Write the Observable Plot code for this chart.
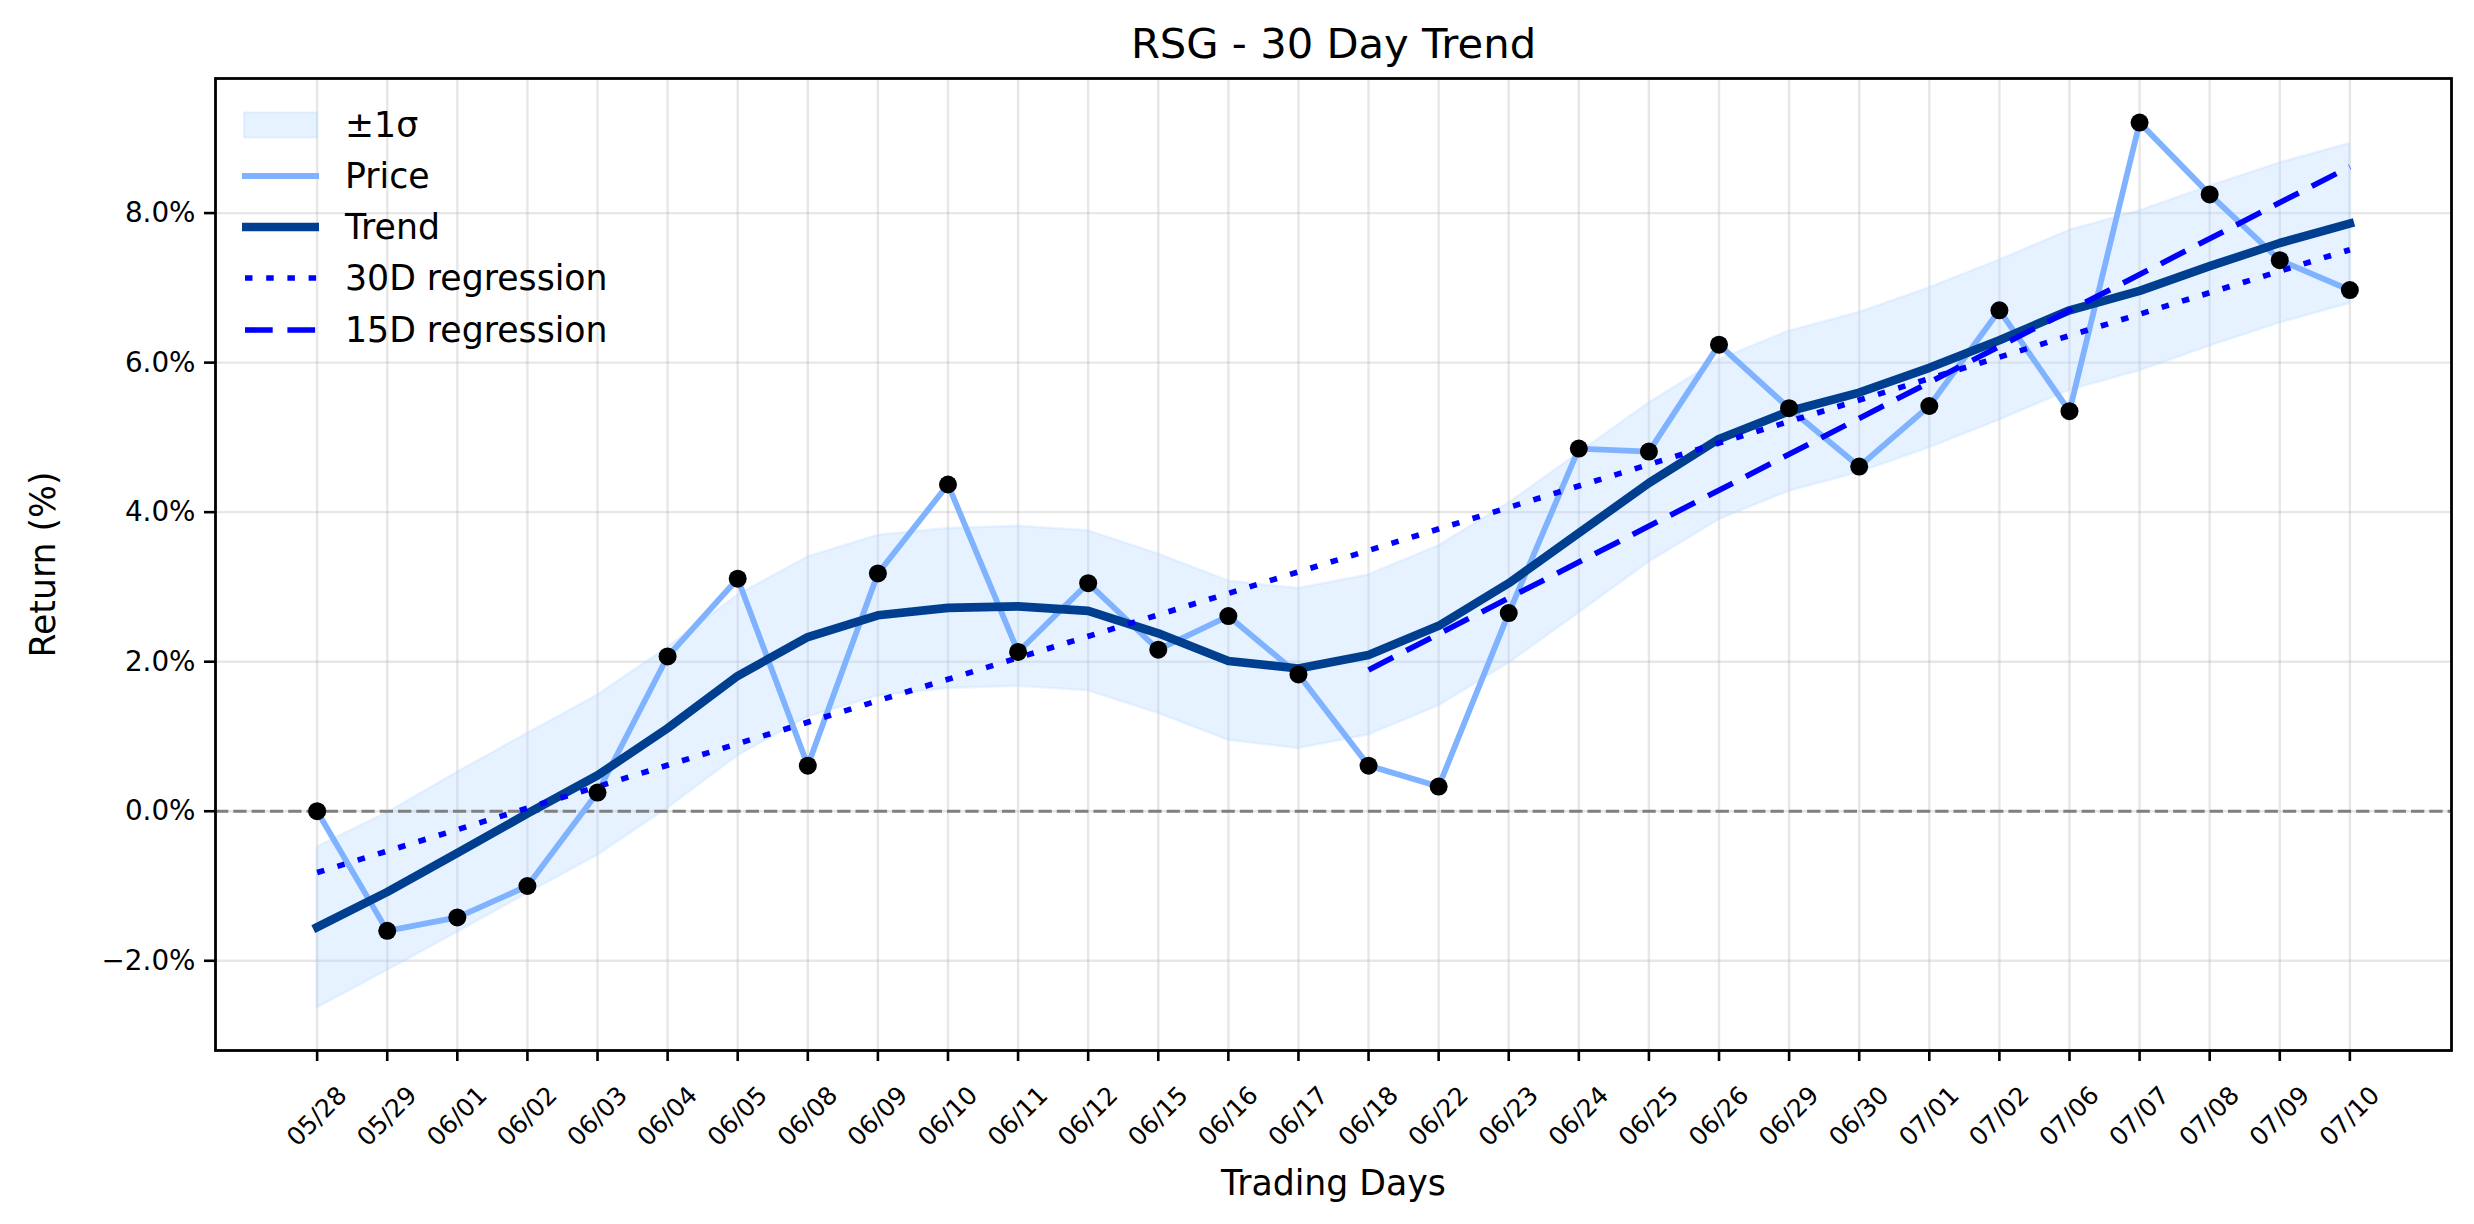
<!DOCTYPE html>
<html>
<head>
<meta charset="utf-8">
<script src="https://cdn.jsdelivr.net/npm/d3@7"></script>
<script src="https://cdn.jsdelivr.net/npm/@observablehq/plot@0.6"></script>
<style>
  html, body { margin: 0; padding: 0; background: white; overflow: hidden; }
  #wrap { position: relative; width: 2474px; height: 1224px; font-family: "DejaVu Sans", sans-serif; }
  #legend { position: absolute; left: 0; top: 0; }
  .row { position: absolute; left: 240px; height: 40px; display: flex; align-items: center; }
  .row svg { display: block; }
  .row span { margin-left: 25px; font-size: 34.7px; color: black; white-space: nowrap; }
</style>
</head>
<body>
<div id="wrap"><div id="legend"></div></div>
<script>
// ---- data ----
const dates = ["05/28","05/29","06/01","06/02","06/03","06/04","06/05","06/08","06/09","06/10",
               "06/11","06/12","06/15","06/16","06/17","06/18","06/22","06/23","06/24","06/25",
               "06/26","06/29","06/30","07/01","07/02","07/06","07/07","07/08","07/09","07/10"];
const price = [0.00,-1.60,-1.42,-1.00,0.25,2.07,3.11,0.61,3.18,4.37,
               2.13,3.05,2.16,2.61,1.83,0.61,0.33,2.65,4.85,4.81,
               6.24,5.39,4.61,5.42,6.70,5.35,9.21,8.25,7.37,6.97];
const trend = [-1.55,-1.08,-0.56,-0.03,0.48,1.11,1.81,2.33,2.62,2.72,
               2.74,2.68,2.38,2.01,1.91,2.09,2.48,3.05,3.72,4.39,
               4.98,5.35,5.60,5.93,6.30,6.70,6.96,7.29,7.60,7.86];
const upper = [-0.48,-0.02,0.52,1.04,1.55,2.19,2.89,3.40,3.69,3.78,
               3.81,3.75,3.44,3.08,2.98,3.16,3.55,4.12,4.79,5.46,
               6.04,6.42,6.67,7.00,7.37,7.77,8.03,8.36,8.67,8.93];
const lower = [-2.63,-2.13,-1.62,-1.10,-0.59,0.04,0.74,1.26,1.54,1.64,
               1.67,1.61,1.31,0.95,0.84,1.02,1.41,1.98,2.65,3.33,
               3.90,4.28,4.53,4.86,5.23,5.63,5.89,6.22,6.53,6.79];
const reg30X = [0, 29];
const reg30Y = [-0.82, 7.51];
const reg15X = [15, 29];
const reg15Y = [1.89, 8.62];
const yTicks = [-2, 0, 2, 4, 6, 8];
const yTickLabels = ["\u22122.0%", "0.0%", "2.0%", "4.0%", "6.0%", "8.0%"];
const title = "RSG - 30 Day Trend";
const xLabel = "Trading Days";
const yLabel = "Return (%)";
const legendLabels = ["\u00b11\u03c3", "Price", "Trend", "30D regression", "15D regression"];

// ---- colours ----
const C_PRICE = "#80b3ff", C_TREND = "#003f8f", C_REG = "#0000ff";
const C_BAND = "#b3d7ff";
const DOT30 = "7.5,13.7", DASH15 = "27.7,14.7";

const idx = dates.map((d, i) => i);
const r30 = reg30X.map((x, k) => ({x, y: reg30Y[k]}));
const r15 = reg15X.map((x, k) => ({x, y: reg15Y[k]}));

const chart = Plot.plot({
  width: 2474, height: 1224,
  marginLeft: 215, marginRight: 23, marginTop: 78, marginBottom: 174,
  style: {fontFamily: "DejaVu Sans", background: "white", color: "black", overflow: "visible"},
  x: {domain: [-1.45, 30.45]},
  y: {domain: [-3.2, 9.8]},
  marks: [
    Plot.gridX(idx, {stroke: "#b0b0b0", strokeOpacity: 0.3, strokeWidth: 2.4}),
    Plot.gridY(yTicks, {stroke: "#b0b0b0", strokeOpacity: 0.3, strokeWidth: 2.4}),
    Plot.areaY(idx, {x: i => i, y1: i => lower[i], y2: i => upper[i],
      fill: C_BAND, fillOpacity: 0.33, stroke: C_BAND, strokeOpacity: 0.25, strokeWidth: 2.5}),
    Plot.ruleY([0], {stroke: "#808080", strokeWidth: 3.2, strokeDasharray: "13.3,5"}),
    Plot.line(idx, {x: i => i, y: i => price[i], stroke: C_PRICE, strokeWidth: 5.8,
      strokeLinejoin: "round", strokeLinecap: "square"}),
    Plot.line(idx, {x: i => i, y: i => trend[i], stroke: C_TREND, strokeWidth: 8.6,
      strokeLinejoin: "round", strokeLinecap: "square"}),
    Plot.line(r30, {x: "x", y: "y", stroke: C_REG, strokeWidth: 5.6,
      strokeDasharray: DOT30, strokeLinecap: "butt"}),
    Plot.line(r15, {x: "x", y: "y", stroke: C_REG, strokeWidth: 5.6,
      strokeDasharray: DASH15, strokeLinecap: "butt"}),
    Plot.dot(idx, {x: i => i, y: i => price[i], r: 9, fill: "black", stroke: "none"}),
    Plot.frame({stroke: "black", strokeWidth: 2.8}),
    Plot.axisX(idx, {tickSize: 11, tickFormat: () => "", strokeWidth: 2.6, label: null}),
    Plot.text(idx, {x: i => i, text: i => dates[i], frameAnchor: "bottom", dy: 66,
      rotate: -45, fontSize: 25, textAnchor: "middle", lineAnchor: "middle", fill: "black"}),
    Plot.axisY(yTicks, {tickSize: 11, tickPadding: 9, strokeWidth: 2.6, fontSize: 27.8,
      tickFormat: (d, i) => yTickLabels[yTicks.indexOf(d)], label: null, fill: "black"}),
    Plot.text([title], {text: d => d, frameAnchor: "top", dy: -34, fontSize: 41.7,
      lineAnchor: "middle", fill: "black"}),
    Plot.text([xLabel], {text: d => d, frameAnchor: "bottom", dy: 133, fontSize: 34.7,
      lineAnchor: "middle", fill: "black"}),
    Plot.text([yLabel], {text: d => d, frameAnchor: "left", dx: -172, rotate: -90,
      fontSize: 34.7, lineAnchor: "middle", textAnchor: "middle", fill: "black"})
  ]
});
document.getElementById("wrap").insertBefore(chart, document.getElementById("legend"));

// ---- legend (HTML overlay, matplotlib-like, no frame) ----
const rowsY = [124.5, 175.8, 227, 278.3, 329.5];
const handles = [
  `<rect x="4" y="7.5" width="73" height="25" fill="${C_BAND}" fill-opacity="0.33" stroke="${C_BAND}" stroke-opacity="0.3" stroke-width="2"/>`,
  `<line x1="2" x2="79" y1="20" y2="20" stroke="${C_PRICE}" stroke-width="5.8"/>`,
  `<line x1="2" x2="79" y1="20" y2="20" stroke="${C_TREND}" stroke-width="8.6"/>`,
  `<line x1="5" x2="79" y1="20" y2="20" stroke="${C_REG}" stroke-width="5.6" stroke-dasharray="${DOT30}"/>`,
  `<line x1="5" x2="79" y1="20" y2="20" stroke="${C_REG}" stroke-width="5.6" stroke-dasharray="${DASH15}"/>`
];
const leg = document.getElementById("legend");
legendLabels.forEach((lab, k) => {
  const row = document.createElement("div");
  row.className = "row";
  row.style.top = (rowsY[k] - 20) + "px";
  row.innerHTML = `<svg width="80" height="40">${handles[k]}</svg><span>${lab}</span>`;
  leg.appendChild(row);
});
</script>
</body>
</html>
